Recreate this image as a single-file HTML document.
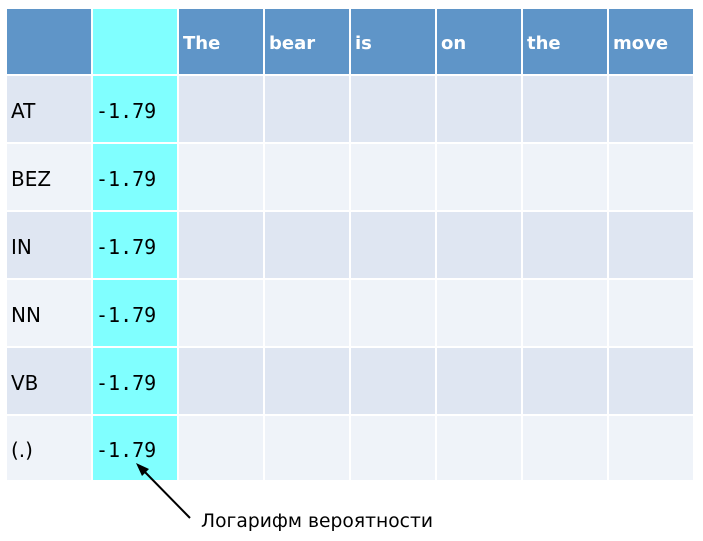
<!DOCTYPE html>
<html><head><meta charset="utf-8"><style>
body{margin:0;width:703px;height:541px;background:#fff;position:relative;overflow:hidden;font-family:"DejaVu Sans",sans-serif}
.c{position:absolute;box-sizing:border-box;display:flex;align-items:center;padding-left:4px;padding-top:3px;font-size:20px;color:#000}
.h{background:#5f95c8;color:#fff;font-weight:bold;font-family:"DejaVu Sans",sans-serif;font-size:18px;padding-top:3px}
.cy{background:#80ffff}
.m{font-family:"DejaVu Sans Mono","Liberation Mono",monospace;font-size:20px;padding-left:3px}
</style></head><body>
<div id="tbl"></div>
<svg width="703" height="541" style="position:absolute;left:0;top:0">
<line x1="190" y1="518" x2="142" y2="469" stroke="#000" stroke-width="2"/>
<polygon points="136,463 149,469 142,476" fill="#000"/>
<text x="201" y="527" font-family="DejaVu Sans, sans-serif" font-size="18.7" textLength="232" fill="#000">Логарифм вероятности</text>
</svg>
<script>
const words=["The","bear","is","on","the","move"];
const tags=["AT","BEZ","IN","NN","VB","(.)"];
const startVals=["-1.79","-1.79","-1.79","-1.79","-1.79","-1.79"];
const colX=[7,93,179,265,351,437,523,609,695];
const rowY=[9,76,144,212,280,348,416,482];
const tbl=document.getElementById('tbl');
function cell(r,c,cls,txt){
  const d=document.createElement('div');
  d.className='c '+cls;
  d.style.left=colX[c]+'px';d.style.top=rowY[r]+'px';
  d.style.width=(colX[c+1]-colX[c]-2)+'px';d.style.height=(rowY[r+1]-rowY[r]-2)+'px';
  d.textContent=txt;
  
  
  tbl.appendChild(d);
}
cell(0,0,'h','');cell(0,1,'cy','');
words.forEach((w,i)=>cell(0,i+2,'h',w));
tags.forEach((t,r)=>{
  const bg=r%2===0?'#dfe6f2':'#eff3f9';
  cell(r+1,0,'',t);tbl.lastChild.style.background=bg;
  cell(r+1,1,'cy m',startVals[r]);
  for(let c=2;c<8;c++){cell(r+1,c,'','');tbl.lastChild.style.background=bg;}
});
</script>
</body></html>
